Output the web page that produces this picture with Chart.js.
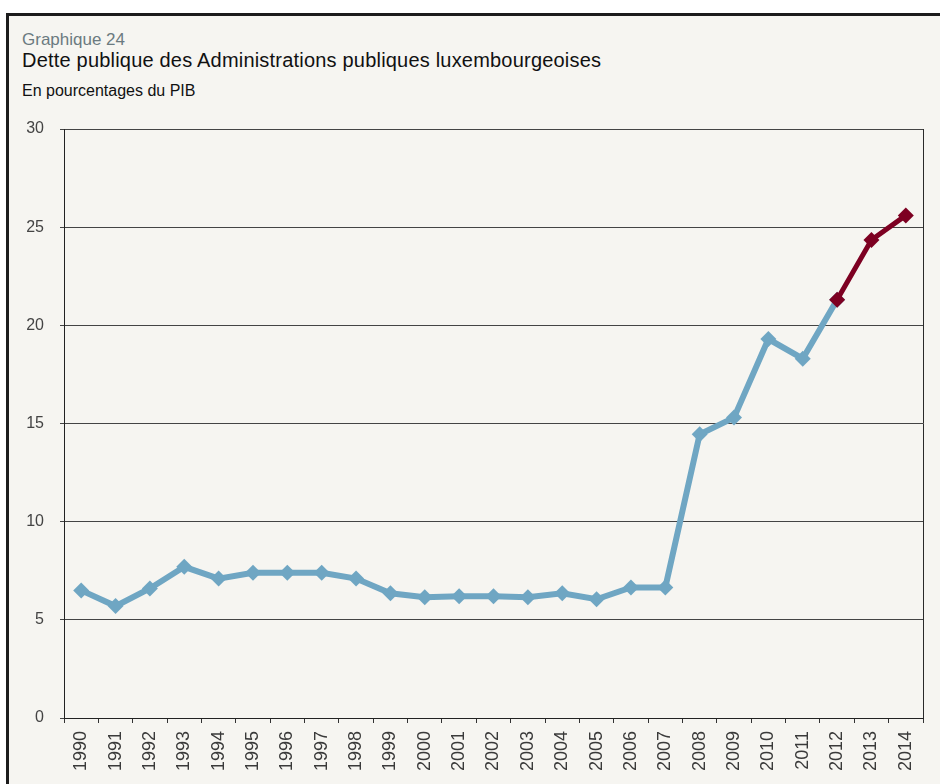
<!DOCTYPE html>
<html lang="fr">
<head>
<meta charset="utf-8">
<title>Dette publique</title>
<script src="https://cdn.jsdelivr.net/npm/chart.js@4.4.1/dist/chart.umd.min.js"></script>
<style>
  html, body { margin: 0; padding: 0; background: #fff; width: 940px; height: 784px; overflow: hidden; }
  .frame {
    position: absolute; left: 6px; top: 13px; width: 1000px; height: 900px;
    background: #f6f5f1; border-left: 3px solid #1c1c1c; border-top: 3px solid #1c1c1c;
  }
  .txt { position: absolute; left: 22px; white-space: nowrap; font-family: "Liberation Sans", Arial, sans-serif; line-height: 1; }
  #kicker { top: 31px; font-size: 17px; color: #6b7a80; }
  #title { top: 50px; font-size: 20px; letter-spacing: 0.2px; color: #111; }
  #subtitle { top: 83px; font-size: 16px; color: #111; }
  #wrap { position: absolute; left: 0; top: 0; width: 940px; height: 784px; }
</style>
</head>
<body>
<div class="frame"></div>
<div class="txt" id="kicker">Graphique 24</div>
<div class="txt" id="title">Dette publique des Administrations publiques luxembourgeoises</div>
<div class="txt" id="subtitle">En pourcentages du PIB</div>
<div id="wrap"><canvas id="debtChart"></canvas></div>
<script>
const years = ['1990', '1991', '1992', '1993', '1994', '1995', '1996', '1997', '1998', '1999',
               '2000', '2001', '2002', '2003', '2004', '2005', '2006', '2007', '2008', '2009',
               '2010', '2011', '2012', '2013', '2014'];

// observed debt ratio, % of GDP
const debtObserved = [6.5, 5.7, 6.6, 7.7, 7.1, 7.4, 7.4, 7.4, 7.1, 6.35,
                      6.15, 6.2, 6.2, 6.15, 6.35, 6.05, 6.65, 6.65, 14.45, 15.3,
                      19.3, 18.3, 21.3, null, null];

// projection segment starting at 2012
const debtProjected = [null, null, null, null, null, null, null, null, null, null,
                       null, null, null, null, null, null, null, null, null, null,
                       null, null, 21.3, 24.35, 25.6];

const yTicks = [0, 5, 10, 15, 20, 25, 30];

const BLUE = '#6fa6c3';
const RED = '#7d0022';

// closes the plot box on the right
const rightBorder = {
    id: 'rightBorder',
    afterDraw(chart) {
        const { ctx, chartArea } = chart;
        ctx.save();
        ctx.strokeStyle = '#2a2a2a';
        ctx.lineWidth = 1;
        ctx.beginPath();
        ctx.moveTo(Math.round(chartArea.right) + 0.5, chartArea.top);
        ctx.lineTo(Math.round(chartArea.right) + 0.5, chartArea.bottom);
        ctx.stroke();
        ctx.restore();
    }
};

const ctx = document.getElementById('debtChart').getContext('2d');
const chart = new Chart(ctx, {
    type: 'line',
    data: {
        labels: years,
        datasets: [
            {
                label: 'Dette',
                data: debtObserved,
                order: 2,
                borderColor: BLUE,
                backgroundColor: BLUE,
                borderWidth: 6,
                pointStyle: 'rectRot',
                pointRadius: 8,
                pointBorderWidth: 0,
                tension: 0
            },
            {
                label: 'Projection',
                data: debtProjected,
                order: 1,
                borderColor: RED,
                backgroundColor: RED,
                borderWidth: 5,
                pointStyle: 'rectRot',
                pointRadius: 8,
                pointBorderWidth: 0,
                tension: 0
            }
        ]
    },
    options: {
        responsive: true,
        maintainAspectRatio: false,
        animation: false,
        layout: { padding: { left: 0, top: 129, right: 17, bottom: 0 } },
        plugins: { legend: { display: false }, tooltip: { enabled: false } },
        scales: {
            x: {
                offset: true,
                grid: { offset: true, drawOnChartArea: false, tickLength: 5, color: '#333' },
                border: { color: '#222', width: 1 },
                ticks: {
                    autoSkip: false, minRotation: 90, maxRotation: 90, padding: 8,
                    color: '#3a3a3a',
                    font: { family: '"Liberation Sans", Arial', size: 18 }
                },
                afterFit(scale) { scale.height = 66; }
            },
            y: {
                min: 0, max: 30,
                afterBuildTicks(scale) { scale.ticks = yTicks.map(v => ({ value: v })); },
                grid: { color: '#444', lineWidth: 1, tickLength: 4 },
                border: { color: '#222', width: 1 },
                ticks: {
                    padding: 16, color: '#444',
                    font: { family: '"Liberation Sans", Arial', size: 16 }
                },
                afterFit(scale) { scale.width = 64; }
            }
        }
    },
    plugins: [rightBorder]
});
</script>
</body>
</html>
